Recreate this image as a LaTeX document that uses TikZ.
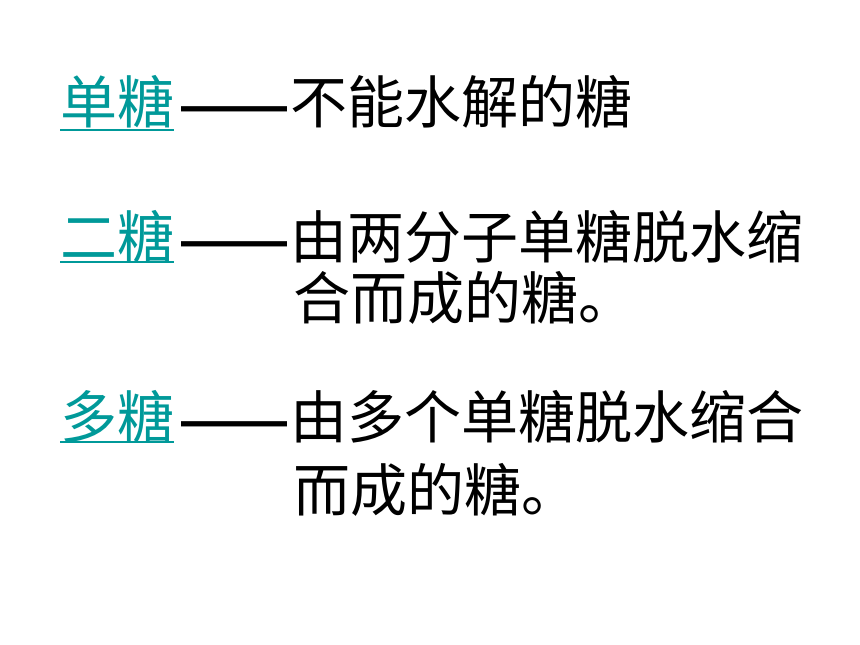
\documentclass[tikz,border=0pt]{standalone}
\usepackage{fontspec}
\newfontfamily\cjk{Noto Sans CJK SC}
\newfontfamily\dashfont{Liberation Sans}[BoldFont={Liberation Sans Bold}]
\definecolor{linkteal}{HTML}{009999}
\tikzset{
  txt/.style={anchor=base west, inner sep=0pt, outer sep=0pt, font=\cjk\fontsize{57pt}{57pt}\selectfont, text=black},
  link/.style={txt, text=linkteal},
  dashtxt/.style={anchor=base west, inner sep=0pt, outer sep=0pt, font=\dashfont\bfseries\fontsize{53pt}{53pt}\selectfont, text=black},
  uline/.style={draw=linkteal, line width=2pt}
}
\begin{document}
\begin{tikzpicture}[x=1pt,y=-1pt]
\useasboundingbox[fill=white] (0,0) rectangle (860,645);
% line 1
\node[link] (l1) at (60,123) {单糖};
\draw[uline] ([yshift=-7pt]l1.base west) -- ([yshift=-7pt]l1.base east);
\node[dashtxt] (d1) at (181,123) {——};
\node[txt] (t1) at (290,123) {不能水解的糖};
% line 2
\node[link] (l2) at (60,258) {二糖};
\draw[uline] ([yshift=-4pt]l2.base west) -- ([yshift=-4pt]l2.base east);
\node[dashtxt] (d2) at (181,258) {——};
\node[txt] (t2) at (290,258) {由两分子单糖脱水缩};
\node[txt] (t2b) at (293,319) {合而成的糖。};
% line 3
\node[link] (l3) at (60,438) {多糖};
\draw[uline] ([yshift=-4pt]l3.base west) -- ([yshift=-4pt]l3.base east);
\node[dashtxt] (d3) at (181,438) {——};
\node[txt] (t3) at (290,438) {由多个单糖脱水缩合};
\node[txt] (t3b) at (293,511) {而成的糖。};
\end{tikzpicture}
\end{document}
